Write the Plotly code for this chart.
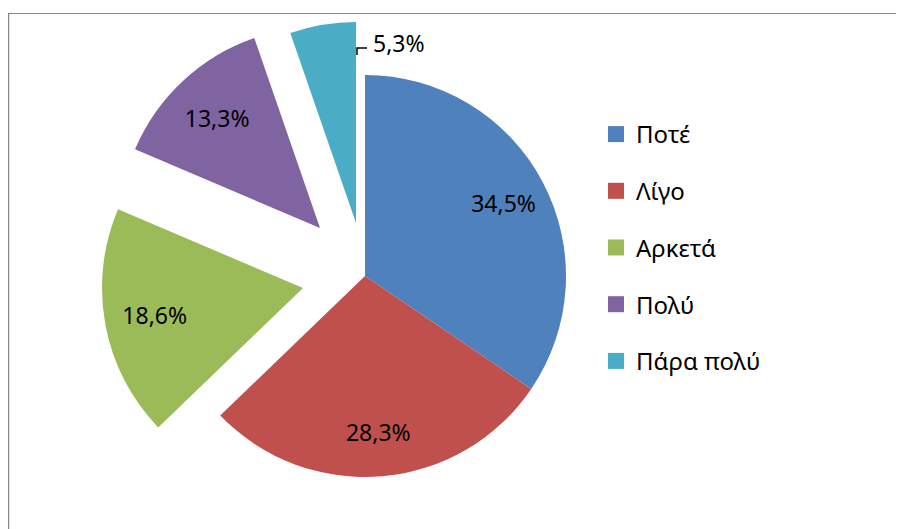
import plotly.graph_objects as go

categories = ["Ποτέ", "Λίγο", "Αρκετά", "Πολύ", "Πάρα πολύ"]
values = [34.5, 28.3, 18.6, 13.3, 5.3]
colors = ["#4F81BD", "#C0504D", "#9BBB59", "#8064A2", "#4BACC6"]

OFF = 8            # page margin of the html body
W, H = 896, 521
FONT = "Noto Sans"
FS_LBL = 23
FS_LEG = 24
R = 201

def fmt(v):
    return f"{v:.1f}%".replace(".", ",")

def px(x):
    return (x - OFF) / W

def py(y):
    return 1 - (y - OFF) / H

def dom(cx, cy, r=R):
    return dict(x=[px(cx - r), px(cx + r)], y=[py(cy + r), py(cy - r)])

# centre (page pixels) of each drawn piece: main pie and exploded slices, and label ring hole
pieces = [
    ([0, 1], (365, 276), 0.56),
    ([2], (303, 288), 0.5),
    ([3], (320, 228), 0.5),
    ([4], (356, 223), 0.5),
]

fig = go.Figure()
for idx, (cx, cy), _ in pieces:
    cols = [colors[i] if i in idx else "rgba(0,0,0,0)" for i in range(len(values))]
    fig.add_trace(go.Pie(
        labels=categories, values=values, sort=False, direction="clockwise",
        rotation=0, marker=dict(colors=cols, line=dict(width=0)),
        textinfo="none", domain=dom(cx, cy), showlegend=False, hoverinfo="skip",
    ))
# transparent ring traces that carry the percentage labels
for idx, (cx, cy), hole in pieces:
    txt = [fmt(values[i]) if (i in idx and i != 4) else "" for i in range(len(values))]
    fig.add_trace(go.Pie(
        labels=categories, values=values, sort=False, direction="clockwise",
        rotation=0, hole=hole,
        marker=dict(colors=["rgba(0,0,0,0)"] * len(values), line=dict(width=0)),
        text=txt, textinfo="text", textposition="inside",
        insidetextorientation="horizontal",
        textfont=dict(family=FONT, size=FS_LBL, color="#000000"),
        domain=dom(cx, cy), showlegend=False, hoverinfo="skip",
    ))

for i, c in enumerate(categories):
    fig.add_trace(go.Scatter(
        x=[None], y=[None], mode="markers", name=c, legendgroup=c,
        marker=dict(symbol="square", size=17, color=colors[i]),
        showlegend=True, hoverinfo="skip",
    ))

# label for the small slice, placed outside with a leader line
fig.add_annotation(x=px(371), y=py(43), xref="paper", yref="paper",
                   text=fmt(values[4]), showarrow=False, xanchor="left", yanchor="middle",
                   font=dict(family=FONT, size=FS_LBL, color="#000000"))
fig.add_shape(type="path", xref="paper", yref="paper",
              path=f"M {px(357)} {py(55)} L {px(357)} {py(48)} L {px(367)} {py(48)}",
              line=dict(color="#000000", width=1.5))

# chart-area border
fig.add_shape(type="rect", xref="paper", yref="paper",
              x0=0.6 / W, x1=1.05, y0=-0.05, y1=py(13.5),
              line=dict(color="#878787", width=1.2), fillcolor="rgba(0,0,0,0)")

fig.update_layout(
    width=W, height=H, margin=dict(l=0, r=0, t=0, b=0),
    paper_bgcolor="white", plot_bgcolor="white",
    xaxis=dict(visible=False), yaxis=dict(visible=False),
    hovermode=False,
    legend=dict(x=px(596), y=py(112), xanchor="left", yanchor="top",
                font=dict(family=FONT, size=FS_LEG, color="#000000"),
                tracegroupgap=22.5, itemwidth=30, bgcolor="rgba(0,0,0,0)"),
    font=dict(family=FONT, size=FS_LBL),
)

fig.write_html("out.html")
